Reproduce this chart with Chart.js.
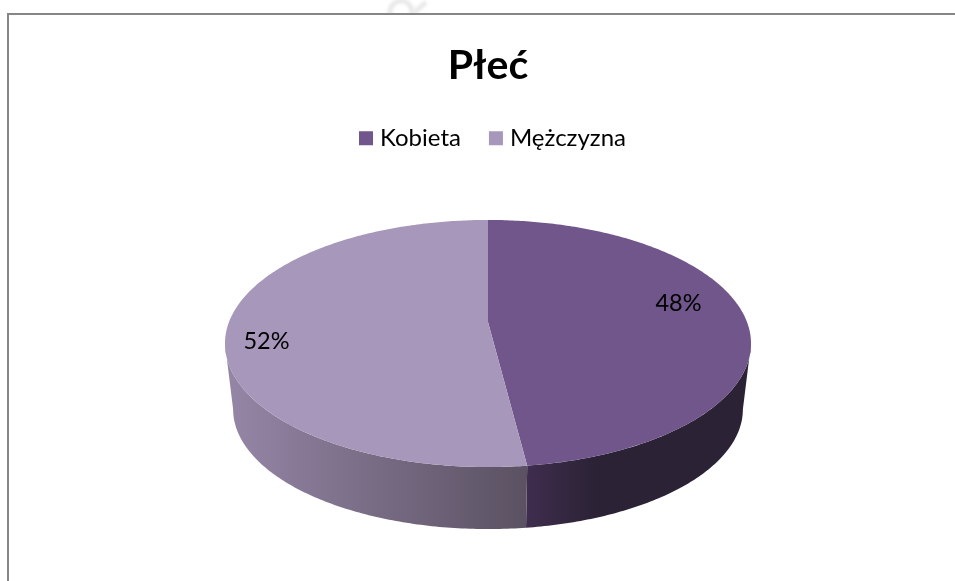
<!DOCTYPE html>
<html><head><meta charset="utf-8">
<style>html,body{margin:0;padding:0;background:#fff;overflow:hidden}canvas{display:block}</style>
<script src="https://cdn.jsdelivr.net/npm/chart.js@4"></script>
</head><body>
<canvas id="c" width="955" height="581"></canvas>
<script>
const categories = ["Kobieta", "Mężczyzna"];
const shares = [48, 52];
const faceColors = ["#71568B", "#A797BB"];
const sideStops = [["#3F2D4E", "#2B2235"], ["#9485A5", "#5A5162"]];
const chartTitle = "Płeć";

const TOP = {cx:488, cy:322, ax:259, ay:119.8, k:-0.174};
const BOTTOM = {cx:488, cy:388.4, ax:251, ay:116.2, k:-0.174};
const SIL = Math.asin(0.174);
const pt = (g,a)=>{const d=1+g.k*Math.sin(a);return [g.cx+g.ax*Math.cos(a)/d, g.cy+g.ay*Math.sin(a)/d];};
function trace(ctx,g,a0,a1,first){
  const n=Math.max(2,Math.ceil(Math.abs(a1-a0)*80));
  for(let i=0;i<=n;i++){const p=pt(g,a0+(a1-a0)*i/n); if(i===0&&first)ctx.moveTo(p[0],p[1]); else ctx.lineTo(p[0],p[1]);}
}
Chart.ArcElement.prototype.draw = function(ctx){
  ctx.save();
  ctx.beginPath();
  ctx.moveTo(TOP.cx,TOP.cy);
  trace(ctx,TOP,this.startAngle,this.endAngle,false);
  ctx.closePath();
  ctx.fillStyle=this.options.backgroundColor;
  ctx.fill();
  ctx.restore();
};
const pie3d = {
  id:'pie3d',
  afterLayout(chart){
    chart.legend.left+=7; chart.legend.right+=7;
  },
  beforeDraw(chart){
    const c=chart.ctx;
    c.save();
    c.fillStyle='#fff';c.fillRect(0,0,chart.width,chart.height);
    c.save();
    c.beginPath();c.rect(380,0,60,13);c.clip();
    c.filter='blur(1.5px)';c.strokeStyle='#e9e9e9';c.lineWidth=5;
    c.beginPath();c.ellipse(401,12,11,11,0,0,Math.PI*2);c.stroke();
    c.beginPath();c.moveTo(414,13);c.lineTo(426,2);c.stroke();
    c.restore();
    c.strokeStyle='#868686';c.lineWidth=2;
    c.beginPath();c.moveTo(8,581);c.lineTo(8,14);c.lineTo(955,14);c.stroke();
    c.restore();
  },
  beforeDatasetsDraw(chart){
    const c=chart.ctx, arcs=chart.getDatasetMeta(0).data;
    arcs.forEach((arc,i)=>{
      const a0=Math.max(arc.startAngle,SIL), a1=Math.min(arc.endAngle,Math.PI-SIL);
      if(a1<=a0)return;
      const l=pt(BOTTOM,Math.PI-SIL)[0], split=pt(TOP,arcs[0].endAngle)[0];
      const g = i===0 ? c.createLinearGradient(split,0,split+70,0) : c.createLinearGradient(l,0,split,0);
      g.addColorStop(0,sideStops[i][0]);g.addColorStop(1,sideStops[i][1]);
      c.save();c.beginPath();
      trace(c,TOP,a0,a1,true);
      trace(c,BOTTOM,a1,a0,false);
      c.closePath();c.fillStyle=g;c.fill();c.restore();
    });
  },
  afterDatasetsDraw(chart){
    const c=chart.ctx, arcs=chart.getDatasetMeta(0).data;
    const spots=[[678.5,303.5],[266.5,341]];
    c.save();c.fillStyle='#000';c.font='23.5px Lato';c.textAlign='center';c.textBaseline='middle';
    arcs.forEach((arc,i)=>c.fillText(shares[i]+'%',spots[i][0],spots[i][1]));
    c.restore();
  }
};
new Chart(document.getElementById('c'),{
  type:'pie',
  data:{labels:categories,datasets:[{data:shares,backgroundColor:faceColors,borderWidth:0}]},
  options:{
    responsive:false,animation:false,
    layout:{padding:{left:225,right:204,top:0,bottom:50}},
    plugins:{
      tooltip:{enabled:false},
      title:{display:true,text:chartTitle,color:'#000',font:{family:'Lato',size:41,weight:'bold'},padding:{top:41,bottom:3}},
      legend:{display:true,position:'top',align:'center',
        labels:{color:'#000',font:{family:'Lato',size:24},usePointStyle:true,pointStyle:'rect',boxWidth:4,boxHeight:14,padding:33}}
    }
  },
  plugins:[pie3d]
});
</script>
</body></html>
